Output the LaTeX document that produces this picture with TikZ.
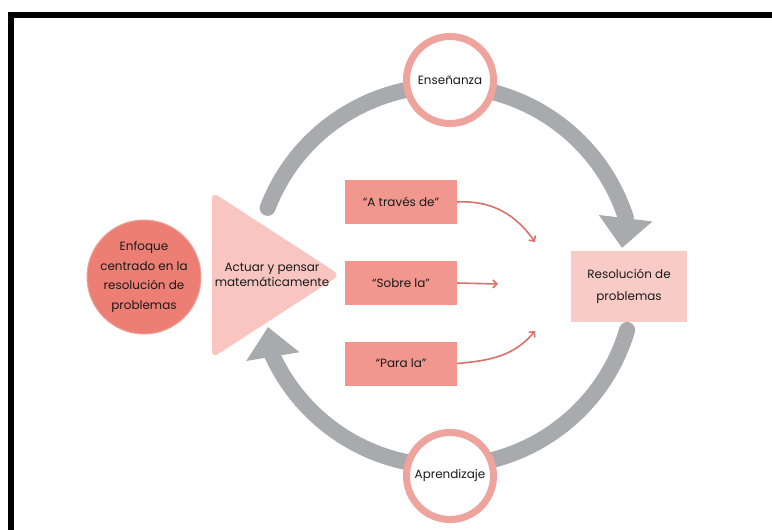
\documentclass[tikz,border=0pt]{standalone}
\usepackage{fontspec}
\setmainfont{Poppins}
\usetikzlibrary{arrows.meta}
\definecolor{ringgray}{HTML}{A8AAAD}
\definecolor{ringpink}{HTML}{EEA39C}
\definecolor{darksalmon}{HTML}{EC7E74}
\definecolor{boxsalmon}{HTML}{F2978E}
\definecolor{lightpink}{HTML}{F8C5C0}
\definecolor{respink}{HTML}{F9CBC6}
\definecolor{arrowred}{HTML}{D9726B}
\definecolor{txt}{HTML}{1A1A1A}
\begin{document}
\begin{tikzpicture}[x=1bp,y=-1bp,
  ring/.style={draw=ringgray,line width=16bp,line cap=round},
  bigtip/.style={-{Triangle[width=52bp,length=30bp]}},
  phase/.style={circle,draw=ringpink,line width=7bp,fill=white,minimum size=87bp,inner sep=0pt,
    text=txt,font=\fontsize{12}{15}\selectfont},
  tbox/.style={rectangle,fill=boxsalmon,minimum width=112bp,minimum height=44bp,inner sep=0pt,
    text=txt,font=\fontsize{12}{15}\selectfont},
  thin/.style={draw=arrowred,line width=1.6bp,-{Straight Barb[length=4bp,width=8bp]}}
]
\useasboundingbox (0,0) rectangle (772,530);
\fill[white] (0,0) rectangle (772,530);

% gray cycle
\draw[ring,bigtip] (445,276) ++(201:190) arc[start angle=201,end angle=342,radius=190] -- (622,248);
\draw[ring,bigtip] (445,276) ++(16.5:190) arc[start angle=16.5,end angle=155,radius=190] -- (268,327);

% phase circles
\node[phase] (ens) at (450,80) {Enseñanza};
\node[phase] (apr) at (450,476) {Aprendizaje};

% focus circle
\node[circle,fill=darksalmon,draw=ringpink,line width=1bp,minimum size=114bp,inner sep=0pt,
  align=center,text=txt,font=\fontsize{12}{20}\selectfont] (enf) at (144,277)
  {Enfoque\\centrado en la\\resolución de\\problemas};

% triangle
\fill[lightpink,rounded corners=7bp] (212,192) -- (340,275) -- (212,358) -- cycle;
\node[align=center,text=txt,font=\fontsize{12}{15}\selectfont,inner sep=0pt] (act) at (272,275)
  {Actuar y pensar\\matemáticamente};

% boxes
\node[tbox] (b1) at (401,202) {“A través de”};
\node[tbox] (b2) at (401,283) {“Sobre la”};
\node[tbox] (b3) at (401,363.5) {“Para la”};

\node[rectangle,fill=respink,minimum width=116bp,minimum height=71bp,inner sep=0pt,align=center,
  text=txt,font=\fontsize{12}{22}\selectfont] (res) at (629,286.5) {Resolución de\\problemas};

% thin arrows (out/in are visual angles)
\coordinate (e1) at (535,242);
\coordinate (e2) at (498,284);
\coordinate (e3) at (535,331);
\draw[thin] (b1.east) to[out=3,in=125] (e1);
\draw[thin] (b2.east) -- (e2);
\draw[thin] (b3.east) to[out=5,in=-130] (e3);

% frame
\draw[line width=6bp,line join=miter] (11,530) -- (11,15) -- (772,15);
\end{tikzpicture}
\end{document}
